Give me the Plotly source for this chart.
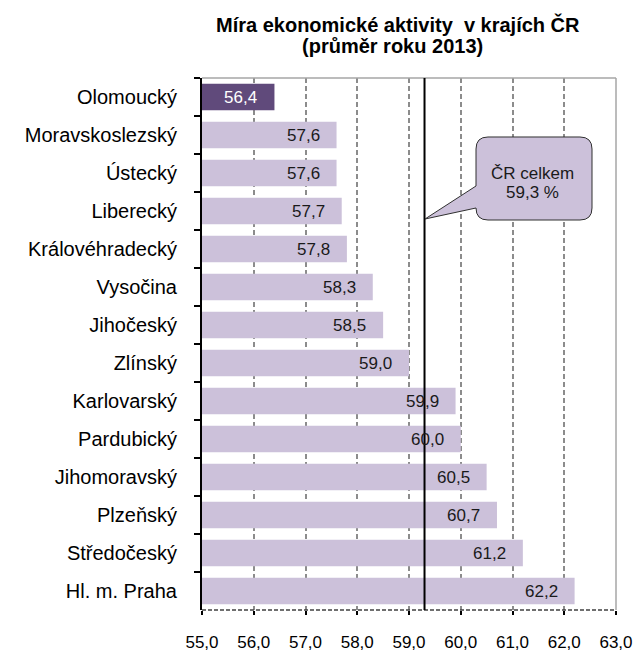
import plotly.graph_objects as go

regions = ["Olomoucký", "Moravskoslezský", "Ústecký", "Liberecký", "Královéhradecký",
           "Vysočina", "Jihočeský", "Zlínský", "Karlovarský", "Pardubický",
           "Jihomoravský", "Plzeňský", "Středočeský", "Hl. m. Praha"]
values = [56.4, 57.6, 57.6, 57.7, 57.8, 58.3, 58.5, 59.0, 59.9, 60.0, 60.5, 60.7, 61.2, 62.2]
highlight = ["Olomoucký"]
cr_total = 59.3
x_min, x_max = 55, 63
x_ticks = [55, 56, 57, 58, 59, 60, 61, 62, 63]
x_ticktext = ["55,0", "56,0", "57,0", "58,0", "59,0", "60,0", "61,0", "62,0", "63,0"]
title_lines = ["Míra ekonomické aktivity  v krajích ČR", "(průměr roku 2013)"]
callout_lines = ["ČR celkem", "59,3 %"]

LIGHT = "#CCC1DA"
DARK = "#604A7B"
FONT = "Liberation Sans, Arial, sans-serif"

W, H = 634, 652
L, R, T, B = 202, 18, 78, 42
PW, PH = W - L - R, H - T - B


def px(xp):
    return (xp - L) / PW


def py(yp):
    return (H - B - yp) / PH


colors = [DARK if r in highlight else LIGHT for r in regions]

fig = go.Figure(go.Bar(
    x=[v - x_min for v in values], y=regions, base=x_min, orientation="h",
    marker=dict(color=colors, line=dict(width=0)), hoverinfo="skip"
))

annotations = []
for r, v in zip(regions, values):
    annotations.append(dict(
        x=v, y=r, xref="x", yref="y", text=f"{v:.1f}".replace(".", ","),
        showarrow=False, xanchor="right", xshift=-15,
        font=dict(family=FONT, size=17, color="white" if r in highlight else "#1a1a1a")
    ))

# title lines
annotations.append(dict(x=px(398), y=py(24.5), xref="paper", yref="paper", text=f"<b>{title_lines[0]}</b>",
                        showarrow=False, xanchor="center", yanchor="middle",
                        font=dict(family=FONT, size=20, color="black")))
annotations.append(dict(x=px(392), y=py(46), xref="paper", yref="paper", text=f"<b>{title_lines[1]}</b>",
                        showarrow=False, xanchor="center", yanchor="middle",
                        font=dict(family=FONT, size=20, color="black")))
# callout text
annotations.append(dict(x=px(532), y=py(173.5), xref="paper", yref="paper", text=callout_lines[0],
                        showarrow=False, xanchor="center", yanchor="middle",
                        font=dict(family=FONT, size=17, color="#1a1a1a")))
annotations.append(dict(x=px(532), y=py(192.5), xref="paper", yref="paper", text=callout_lines[1],
                        showarrow=False, xanchor="center", yanchor="middle",
                        font=dict(family=FONT, size=17, color="#1a1a1a")))

# callout path (pixel -> paper)
bl, br, bt, bb, rad = 476, 592, 137, 220, 12
tip = (425, 219)


def P(xp, yp):
    return f"{px(xp):.5f},{py(yp):.5f}"


path = (f"M{P(bl+rad, bt)} L{P(br-rad, bt)} Q{P(br, bt)} {P(br, bt+rad)} "
        f"L{P(br, bb-rad)} Q{P(br, bb)} {P(br-rad, bb)} L{P(bl+rad, bb)} "
        f"Q{P(bl, bb)} {P(bl, bb-rad)} L{P(tip[0], tip[1])} L{P(bl, 186)} "
        f"L{P(bl, bt+rad)} Q{P(bl, bt)} {P(bl+rad, bt)} Z")

shapes = [
    dict(type="line", xref="paper", yref="paper", x0=0, x1=1, y0=1, y1=1,
         line=dict(color="#a6a6a6", width=1.5), layer="above"),
    dict(type="line", xref="paper", yref="paper", x0=1, x1=1, y0=0, y1=1,
         line=dict(color="#a6a6a6", width=1.5), layer="above"),
    dict(type="line", xref="paper", yref="paper", x0=0, x1=1, y0=0, y1=0,
         line=dict(color="#404040", width=1.5, dash="4px,2px"), layer="above"),
    dict(type="line", xref="x", yref="paper", x0=cr_total, x1=cr_total, y0=0, y1=1,
         line=dict(color="black", width=2), layer="above"),
    dict(type="path", xref="paper", yref="paper", path=path,
         fillcolor=LIGHT, line=dict(color="#303030", width=1), layer="above"),
]

fig.update_layout(
    width=W, height=H,
    margin=dict(l=L, r=R, t=T, b=B, pad=0, autoexpand=False),
    paper_bgcolor="white", plot_bgcolor="white",
    showlegend=False, bargap=0.3,
    annotations=annotations, shapes=shapes,
    font=dict(family=FONT, color="black"),
    xaxis=dict(range=[x_min, x_max], tickvals=x_ticks, ticktext=x_ticktext, automargin=False,
               showgrid=True, gridcolor="#8c8c8c", gridwidth=1.5, griddash="5px,3px",
               zeroline=False, showline=False, ticks="outside", ticklen=4,
               tickcolor="black", tickwidth=1.5, ticklabelstandoff=13,
               tickfont=dict(family=FONT, size=17, color="black"), fixedrange=True),
    yaxis=dict(categoryorder="array", categoryarray=regions, autorange="reversed",
               automargin=False,
               showline=True, linecolor="black", linewidth=2, ticks="outside",
               tickson="boundaries", ticklen=6, tickcolor="black", tickwidth=1.5,
               ticklabelstandoff=19, showgrid=False, zeroline=False,
               tickfont=dict(family=FONT, size=20, color="black"), fixedrange=True),
)

fig.write_html("out.html", config={"displayModeBar": False},
               post_script="document.body.style.margin='0px';document.body.style.overflow='hidden';")
